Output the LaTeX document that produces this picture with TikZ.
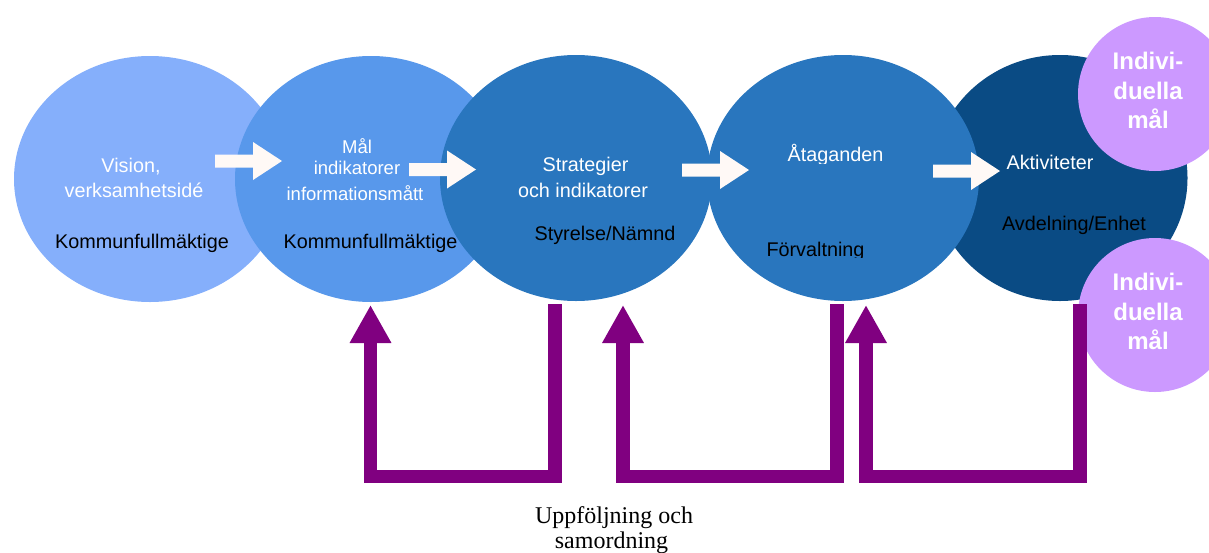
\documentclass[tikz,border=0pt]{standalone}
\usepackage{fontspec}
\setmainfont{Liberation Serif}
\setsansfont{Liberation Sans}
\usetikzlibrary{arrows.meta,shapes.geometric}
\definecolor{cA}{HTML}{85AFFB}
\definecolor{cB}{HTML}{5898EB}
\definecolor{cC}{HTML}{2976BE}
\definecolor{cD}{HTML}{0A4B84}
\definecolor{cP}{HTML}{CC99FF}
\definecolor{cV}{HTML}{800080}
\definecolor{cW}{HTML}{FFF9F6}
\begin{document}
\begin{tikzpicture}[x=1pt,y=-1pt,
  oval/.style={ellipse, inner sep=0pt, minimum width=272pt, minimum height=246pt, draw=none},
  indiv/.style={circle, fill=cP, minimum size=154pt, inner sep=0pt},
  itxt/.style={anchor=base, inner sep=0pt, text=white, font=\sffamily\bfseries\fontsize{24}{28}\selectfont},
  wt/.style={anchor=base, inner sep=0pt, text=white, font=\sffamily\fontsize{19.8}{24}\selectfont},
  wts/.style={anchor=base, inner sep=0pt, text=white, font=\sffamily\fontsize{18.5}{22}\selectfont},
  bt/.style={anchor=base, inner sep=0pt, text=black, font=\sffamily\fontsize{19.8}{24}\selectfont},
  st/.style={anchor=base, inner sep=0pt, text=black, font=\rmfamily\fontsize{24}{28}\selectfont},
  feedback/.style={draw=cV, line width=13.5pt, -{Triangle[width=39pt,length=38pt]}},
  barrow/.pic={\fill[cW] (0,-6.5) -- (38,-6.5) -- (38,-19) -- (67,0) -- (38,19) -- (38,6.5) -- (0,6.5) -- cycle;}
]
\useasboundingbox (0,0) rectangle (1209,552);
\clip (0,0) rectangle (1209,552);

% ellipses
\node[oval, fill=cA] (e1) at (150,179) {};
\node[oval, fill=cB] (e2) at (371,179) {};
\node[oval, fill=cC] (e3) at (576,178) {};
\node[oval, fill=cD, minimum width=255pt] (e5) at (1060,178) {};
\node[oval, fill=cC] (e4) at (843,178) {};

% individual goals
\node[indiv] (i1) at (1155,94) {};
\node[indiv] (i2) at (1155,315) {};

% texts
\node[wt] (t1a) at (131,172) {Vision,};
\node[wt] (t1b) at (134,197.3) {verksamhetsidé};
\node[bt] (t1c) at (142,248.5) {Kommunfullmäktige};

\node[wts] (t2a) at (357,153.3) {Mål};
\node[wts] (t2b) at (357,174) {indikatorer};
\node[wts] (t2c) at (355,200.7) {informationsmått};
\node[bt] (t2d) at (370.5,248.3) {Kommunfullmäktige};

\node[wt] (t3a) at (585.5,171) {Strategier};
\node[wt] (t3b) at (583,197.7) {och indikatorer};
\node[bt] (t3c) at (605,240) {Styrelse/Nämnd};

\begin{scope}
  \clip (700,100) rectangle (980,163.5);
  \node[wt] (t4a) at (835.5,161.7) {Åtaganden};
\end{scope}
\begin{scope}
  \clip (700,200) rectangle (980,257);
  \node[bt] (t4b) at (815.5,256) {Förvaltning};
\end{scope}

\node[wt] (t5a) at (1050,169) {Aktiviteter};
\node[bt] (t5b) at (1074,230) {Avdelning/Enhet};

\node[itxt] (ia1) at (1148,69.3) {Indivi-};
\node[itxt] (ia2) at (1148,99) {duella};
\node[itxt] (ia3) at (1148,128.3) {mål};
\node[itxt] (ib1) at (1148,290) {Indivi-};
\node[itxt] (ib2) at (1148,320) {duella};
\node[itxt] (ib3) at (1148,349.3) {mål};

% block arrows
\pic at (215,161) {barrow};
\pic at (409,169.5) {barrow};
\pic at (682,170) {barrow};
\pic at (933,171) {barrow};

% feedback connectors
\coordinate (f1s) at (555,304);
\coordinate (f1t) at (370.5,305);
\coordinate (f2s) at (837,304);
\coordinate (f2t) at (623,305);
\coordinate (f3s) at (1080,304);
\coordinate (f3t) at (866,305);
\draw[feedback] (f1s) -- ++(0,172.5) -| (f1t);
\draw[feedback] (f2s) -- ++(0,172.5) -| (f2t);
\draw[feedback] (f3s) -- ++(0,172.5) -| (f3t);

\node[st] (u1) at (614,523) {Uppföljning och};
\node[st] (u2) at (611.5,548) {samordning};
\end{tikzpicture}
\end{document}
